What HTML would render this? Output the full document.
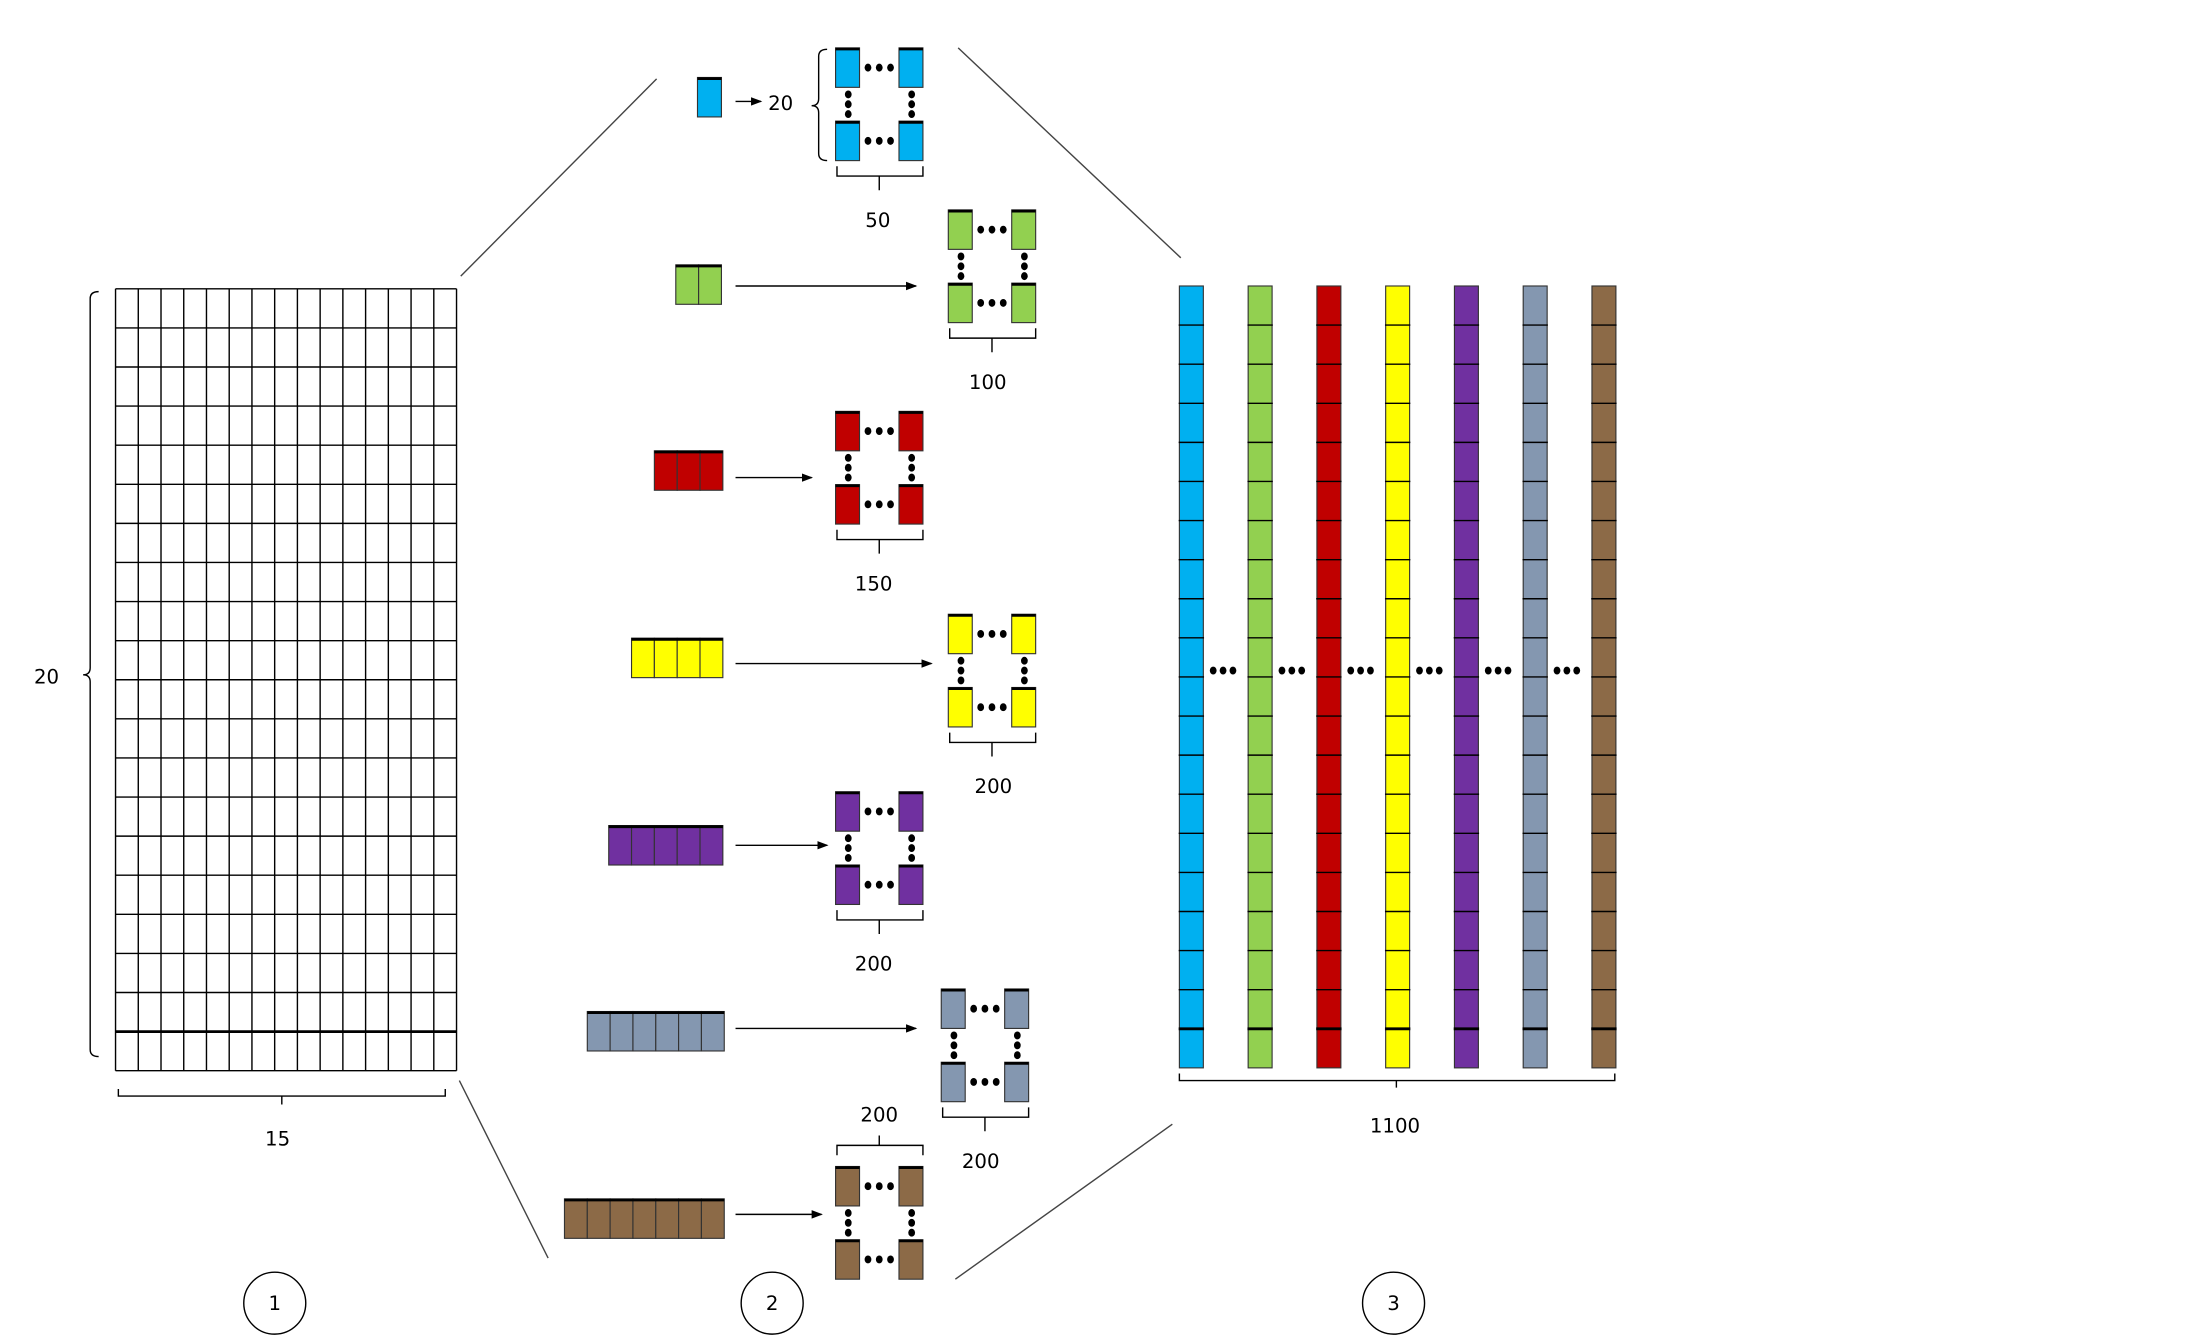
<!DOCTYPE html>
<html><head><meta charset="utf-8"><style>html,body{margin:0;padding:0;background:#fff}svg{display:block}</style></head>
<body>
<svg id="s" width="2208" height="1344" viewBox="0 0 1567 954" preserveAspectRatio="none" xmlns="http://www.w3.org/2000/svg" font-family="'DejaVu Sans','Liberation Sans',sans-serif" font-size="14">
<defs><marker id="ah" markerWidth="8" markerHeight="8" refX="7" refY="4" orient="auto" markerUnits="userSpaceOnUse"><path d="M0,1 L8,4 L0,7 z" fill="#000"/></marker></defs>
<g id="g"></g>
<g stroke="#000" stroke-width="1" fill="none">
<line x1="327" y1="196" x2="466" y2="56" stroke="#444"/>
<line x1="326" y1="767" x2="389" y2="893" stroke="#444"/>
<line x1="680" y1="34" x2="838" y2="183" stroke="#444"/>
<line x1="832" y1="798" x2="678" y2="908" stroke="#444"/>
<circle cx="195" cy="925" r="22"/><circle cx="548" cy="925" r="22"/><circle cx="989" cy="925" r="22"/>
<path d="M70,207 Q64,207 64,212 L64,474 Q64,479 59,479 Q64,479 64,484 L64,745 Q64,750 70,750"/>
<path d="M84,773 L84,778 L200,778 L200,784 M200,778 L316,778 L316,773"/>
<path d="M837,762 L837,767 L991,767 L991,772 M991,767 L1146,767 L1146,762"/>
<path d="M587,35 Q581,35 581,40 L581,70 Q581,75 576,75 Q581,75 581,80 L581,109 Q581,114 587,114"/>
</g>
<g text-anchor="middle">
<text x="195" y="930">1</text><text x="548" y="930">2</text><text x="989" y="930">3</text>
<text x="33" y="485">20</text><text x="197" y="813">15</text><text x="990" y="804">1100</text>
<text x="554" y="78">20</text>
</g>
</svg>
<script>
var g=document.getElementById('g'),h='';
function L(x1,y1,x2,y2,w,c){h+='<line x1="'+x1+'" y1="'+y1+'" x2="'+x2+'" y2="'+y2+'" stroke="'+(c||'#000')+'" stroke-width="'+(w||1)+'"/>';}
function R(x,y,w,hh,f){h+='<rect x="'+x+'" y="'+y+'" width="'+w+'" height="'+hh+'" fill="'+f+'" stroke="#333" stroke-width="0.8"/>';}
function D(x,y){h+='<ellipse cx="'+x+'" cy="'+y+'" rx="2.4" ry="2.8" fill="#000"/>';}
function T(x,y,s){h+='<text x="'+x+'" y="'+y+'" text-anchor="middle" font-size="14">'+s+'</text>';}
for(var i=0;i<=15;i++){var x=82+i*242/15;L(x,205,x,760);}
for(var j=0;j<=20;j++){var y=205+j*555/20;L(82,y,324,y,j==19?2:1);}
var cols=['#00b0f0','#92d050','#c00000','#ffff00','#7030a0','#8497b0','#8c6a47'];
for(var k=0;k<7;k++){var x=837+k*48.8;R(x,203,17,555,cols[k]);
 for(var j=1;j<20;j++){var y=203+j*555/20;L(x-0.5,y,x+17.5,y,j==19?2:1);}
 if(k<6){for(var d=0;d<3;d++)D(x+24+d*7,476);}}
function M(mx,my,c,lab,lx,above){
 var P=[[mx,my],[mx+45,my],[mx,my+52],[mx+45,my+52]];
 P.forEach(function(p){R(p[0],p[1],17,28,c);L(p[0],p[1]+0.8,p[0]+17,p[1]+0.8,2);});
 for(var d=0;d<3;d++){D(mx+23+d*8,my+14);D(mx+23+d*8,my+66);D(mx+9,my+33+d*7);D(mx+54,my+33+d*7);}
 if(!above){h+='<path d="M'+(mx+1)+','+(my+84)+' L'+(mx+1)+','+(my+91)+' L'+(mx+62)+','+(my+91)+' L'+(mx+62)+','+(my+84)+' M'+(mx+31)+','+(my+91)+' L'+(mx+31)+','+(my+101)+'" fill="none" stroke="#000"/>';T(lx,my+127,lab);}
 else{h+='<path d="M'+(mx+1)+','+(my-8)+' L'+(mx+1)+','+(my-15)+' L'+(mx+62)+','+(my-15)+' L'+(mx+62)+','+(my-8)+' M'+(mx+31)+','+(my-15)+' L'+(mx+31)+','+(my-22)+'" fill="none" stroke="#000"/>';T(lx,my-32,lab);}
}
function S(n,xr,y,c,ax2,ay){var w=16.2;for(var i=0;i<n;i++)R(xr-(n-i)*w,y,w,28,c);L(xr-n*w,y+0.8,xr,y+0.8,2);
 h+='<line x1="522" y1="'+ay+'" x2="'+ax2+'" y2="'+ay+'" stroke="#000" marker-end="url(#ah)"/>';}
R(495,55,17,28,cols[0]);L(495,55.8,512,55.8,2);
h+='<line x1="522" y1="72" x2="540" y2="72" stroke="#000" marker-end="url(#ah)"/>';
M(593,34,cols[0],'50',623);
S(2,512,188,cols[1],650,203);M(673,149,cols[1],'100',701);
S(3,513,320,cols[2],576,339);M(593,292,cols[2],'150',620);
S(4,513,453,cols[3],661,471);M(673,436,cols[3],'200',705);
S(5,513,586,cols[4],587,600);M(593,562,cols[4],'200',620);
S(6,514,718,cols[5],650,730);M(668,702,cols[5],'200',696);
S(7,514,851,cols[6],583,862);M(593,828,cols[6],'200',624,true);
g.innerHTML=h;
</script>
</body></html>
